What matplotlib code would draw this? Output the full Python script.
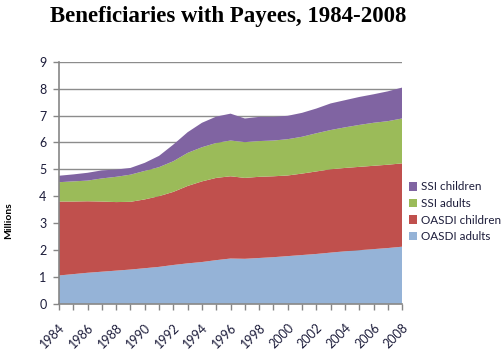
import matplotlib
matplotlib.use("Agg")
import matplotlib.pyplot as plt
from matplotlib.patches import Patch
import numpy as np

years = list(range(1984, 2009))
oasdi_adults = [1.05, 1.10, 1.15, 1.19, 1.23, 1.27, 1.32, 1.37, 1.44, 1.50, 1.55, 1.62, 1.68,
                1.67, 1.70, 1.73, 1.77, 1.81, 1.85, 1.90, 1.95, 1.99, 2.03, 2.07, 2.12]
oasdi_children = [2.75, 2.70, 2.66, 2.61, 2.55, 2.52, 2.56, 2.63, 2.72, 2.88, 3.00, 3.06, 3.06,
                  3.01, 3.02, 3.01, 3.00, 3.03, 3.07, 3.10, 3.10, 3.10, 3.10, 3.10, 3.10]
ssi_adults = [0.72, 0.75, 0.77, 0.86, 0.94, 1.01, 1.06, 1.08, 1.14, 1.23, 1.27, 1.30, 1.33,
              1.33, 1.33, 1.33, 1.35, 1.37, 1.42, 1.46, 1.51, 1.56, 1.60, 1.62, 1.67]
ssi_children = [0.24, 0.26, 0.29, 0.30, 0.27, 0.25, 0.30, 0.42, 0.62, 0.77, 0.91, 0.98, 1.00,
                0.88, 0.90, 0.88, 0.87, 0.89, 0.92, 0.99, 1.01, 1.04, 1.06, 1.11, 1.15]
series_names = ["OASDI adults", "OASDI children", "SSI adults", "SSI children"]
colors = ["#95B3D7", "#C0504D", "#9BBB59", "#8064A2"]
title = "Beneficiaries with Payees, 1984-2008"
ylabel = "Millions"

plt.rcParams['font.family'] = ['Lato', 'DejaVu Sans']
text_color = "#1c1c3a"

fig = plt.figure(figsize=(5.02, 3.53), dpi=100)
ax = fig.add_axes([0.1175, 0.1397, 0.6835, 0.6853])

ax.stackplot(years, oasdi_adults, oasdi_children, ssi_adults, ssi_children,
             colors=colors, linewidth=0, zorder=2)

ax.set_xlim(1984, 2008)
ax.set_ylim(0, 9)
ax.set_yticks(range(0, 10))
ax.yaxis.grid(True, color="#8c8c8c", linewidth=1.0, zorder=1)
ax.set_axisbelow(True)
ax.set_xticks(years)
ax.set_xticklabels([str(y) if (y - 1984) % 2 == 0 else "" for y in years],
                   rotation=45, ha="right", va="top", rotation_mode="anchor", fontsize=9,
                   color=text_color)
for lab in ax.get_yticklabels():
    lab.set_fontsize(9)
    lab.set_color(text_color)
ax.tick_params(axis="x", length=4, color="#868686", width=1, pad=9)
ax.tick_params(axis="y", length=4, color="#868686", width=1, pad=5)
for s in ["top", "right"]:
    ax.spines[s].set_visible(False)
for s in ["left", "bottom"]:
    ax.spines[s].set_color("#868686")
    ax.spines[s].set_linewidth(1.2)
    ax.spines[s].set_zorder(3)

fig.text(0.455, 0.952, title, ha="center", va="center", fontsize=16.5,
         fontweight="bold", family="Liberation Serif")
fig.text(0.018, 0.375, ylabel, rotation=90, ha="center", va="center", fontsize=7.5,
         fontweight="bold", color="black")

handles = [Patch(facecolor=c, edgecolor="none") for c in colors][::-1]
labels = series_names[::-1]
fig.legend(handles, labels, loc="upper left", bbox_to_anchor=(0.814, 0.486),
           frameon=False, fontsize=8.4, handlelength=0.75, handleheight=0.75,
           handletextpad=0.3, labelspacing=0.48, borderaxespad=0, borderpad=0,
           labelcolor=text_color)

fig.savefig("out.png", dpi=100)
